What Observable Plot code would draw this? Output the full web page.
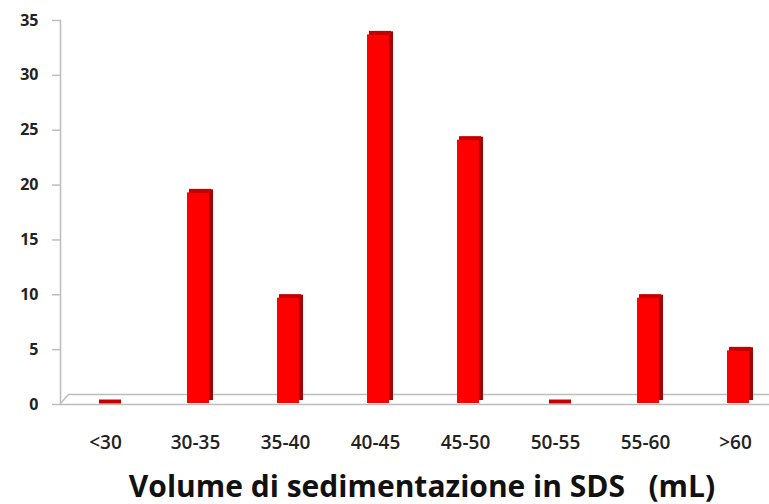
<!DOCTYPE html>
<html>
<head>
<meta charset="utf-8">
<script src="https://cdn.jsdelivr.net/npm/d3@7"></script>
<script src="https://cdn.jsdelivr.net/npm/@observablehq/plot@0.6"></script>
<style>
  html, body { margin: 0; padding: 0; background: #fff; }
  svg { display: block; }
</style>
</head>
<body>
<div id="chart"></div>
<script>
const categories = ["<30", "30-35", "35-40", "40-45", "45-50", "50-55", "55-60", ">60"];
const values = [0, 19.2, 9.6, 33.6, 24, 0, 9.6, 4.8];
const yTicks = [0, 5, 10, 15, 20, 25, 30, 35];
const xTitle = "Volume di sedimentazione in SDS\u00a0\u00a0\u00a0(mL)";

const data = categories.map((c, i) => ({cat: c, val: values[i]}));
const font = "'Open Sans', sans-serif";
const gray = "#bdbdbd";

const floorEdge = (index, scales, values, dims) => {
  const y0 = scales.y(0);
  const x0 = dims.marginLeft;
  const ns = "http://www.w3.org/2000/svg";
  const p = document.createElementNS(ns, "path");
  p.setAttribute("d", `M${x0},${y0}L${x0 + 9},${y0 - 10}`);
  p.setAttribute("stroke", gray);
  p.setAttribute("stroke-width", "1.5");
  p.setAttribute("fill", "none");
  return p;
};

const chart = Plot.plot({
  width: 769,
  height: 504,
  marginLeft: 60,
  marginRight: 0,
  marginTop: 20,
  marginBottom: 100,
  style: {fontFamily: font, background: "#fff"},
  x: {domain: categories, range: [59, 782], paddingInner: 0.755, paddingOuter: 0.3775, align: 0.5, label: null},
  y: {domain: [0, 35], label: null},
  marks: [
    // floor
    Plot.ruleY([0], {stroke: gray, strokeWidth: 1.5}),
    Plot.ruleY([0], {stroke: gray, strokeWidth: 1.5, dy: -10, insetLeft: 9}),
    floorEdge,
    // y axis line
    Plot.frame({anchor: "left", stroke: gray, strokeWidth: 1.5}),
    // bars: side (dark extrusion), front face, top face
    Plot.barY(data, {x: "cat", y: "val", fill: "#a30000", dx: 7, dy: -4}),
    Plot.barY(data, {x: "cat", y: "val", fill: "#ff0000", dx: 3, dy: -1}),
    Plot.tickY(data, {x: "cat", y: "val", stroke: "#c40000", strokeWidth: 4, dx: 5, dy: -3}),
    // axes
    Plot.axisY({ticks: yTicks, tickSize: 8, text: null, stroke: gray, strokeWidth: 1.5}),
    Plot.axisY({ticks: yTicks, tickSize: 0, tickPadding: 22, fontSize: 16, fontWeight: "bold", fill: "#222", label: null}),
    Plot.axisX({tickSize: 0, tickPadding: 31, fontSize: 19, fontWeight: 600, fill: "#222", label: null}),
    Plot.text([xTitle], {frameAnchor: "bottom", dy: 92, dx: 7, fontSize: 30, fontWeight: "bold", fill: "#111"})
  ]
});
document.getElementById("chart").appendChild(chart);
</script>
</body>
</html>
